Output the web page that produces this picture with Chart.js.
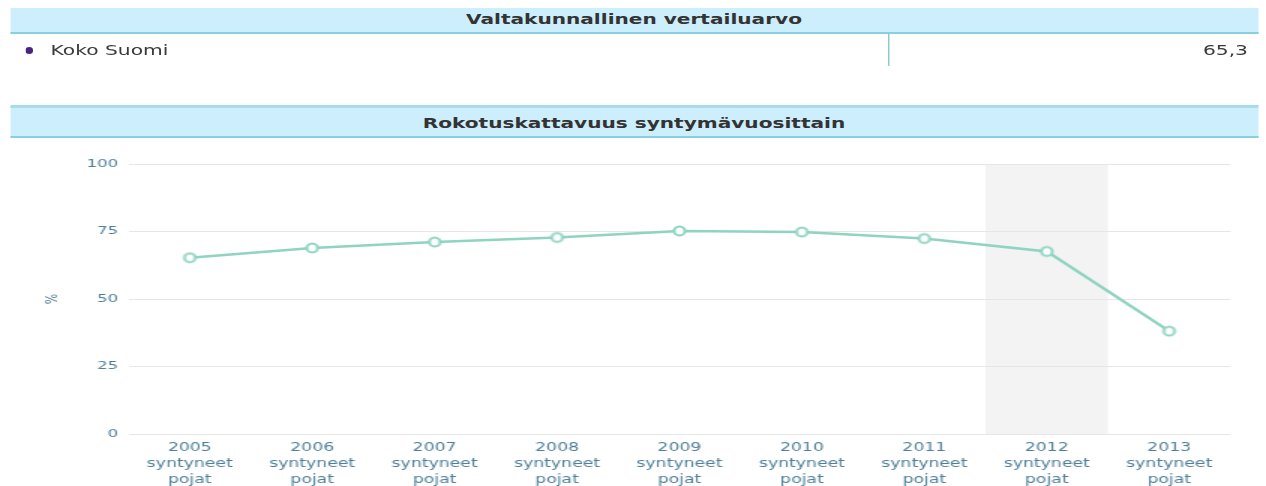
<!DOCTYPE html>
<html>
<head>
<meta charset="utf-8">
<script src="https://cdn.jsdelivr.net/npm/chart.js@4"></script>
<style>
  body { margin: 0; background: #fff; font-family: "DejaVu Sans", Verdana, sans-serif; color: #333; overflow: hidden; }
  /* the reference is a horizontally stretched screenshot, so the page is laid out narrow and stretched */
  #page { position: absolute; left: 0; top: 0; width: 844px; height: 486px; transform: scaleX(1.5); transform-origin: 0 0; }
  .hdr { position: absolute; left: 6.67px; width: 832px; background: #cdeefc; border-bottom: 2px solid #86d0df;
         text-align: center; font-weight: bold; font-size: 13.4px; color: #333; box-sizing: border-box; }
  #h1 { top: 8px; height: 26px; line-height: 24px; }
  #h2 { top: 105px; height: 33px; line-height: 31px; border-top: 3px solid #a9dceb; }
  #row { position: absolute; left: 6.67px; top: 34px; width: 832px; height: 32px; font-size: 13.5px; color: #3a3a3a; }
  #dot { position: absolute; left: 10px; top: 13px; width: 5.3px; height: 7px; border-radius: 50%; background: #4b2483; }
  #name { position: absolute; left: 27px; top: 8px; }
  #sep { position: absolute; left: 585px; top: 0; width: 1px; height: 32px; background: #8fc9d6; }
  #val { position: absolute; right: 6.67px; top: 8px; }
  #wrap { position: absolute; left: 6.67px; top: 140px; width: 832px; height: 346px; }
</style>
</head>
<body>
<div id="page">
<div class="hdr" id="h1">Valtakunnallinen vertailuarvo</div>
<div id="row"><div id="dot"></div><div id="name">Koko Suomi</div><div id="sep"></div><div id="val">65,3</div></div>
<div class="hdr" id="h2">Rokotuskattavuus syntymävuosittain</div>
<div id="wrap"><canvas id="myChart"></canvas></div>
</div>
<script>
var years = ["2005", "2006", "2007", "2008", "2009", "2010", "2011", "2012", "2013"];
var coverage = [65.3, 68.9, 71.1, 72.8, 75.2, 74.8, 72.4, 67.6, 38.1];
var yTicks = [0, 25, 50, 75, 100];
var shadedYear = "2012";

var labels = years.map(function (y) { return [y, "syntyneet", "pojat"]; });
var tickColor = "#4e7f99";
var lineColor = "#8fd4c1";

// point marker: narrower than tall so it ends up round-ish after the stretch
var marker = document.createElement("canvas");
marker.width = 12; marker.height = 14;
(function () {
  var m = marker.getContext("2d");
  m.beginPath();
  m.ellipse(6, 7, 3.6, 4.6, 0, 0, Math.PI * 2);
  m.fillStyle = "#fff";
  m.fill();
  m.lineWidth = 2;
  m.strokeStyle = lineColor;
  m.stroke();
})();

// grey band behind one category
var bandPlugin = {
  id: "band",
  beforeDraw: function (chart) {
    var x = chart.scales.x, area = chart.chartArea, c = chart.ctx;
    var i = years.indexOf(shadedYear);
    var half = (x.getPixelForValue(1) - x.getPixelForValue(0)) / 2;
    var cx = x.getPixelForValue(i);
    c.save();
    c.fillStyle = "#f3f3f3";
    c.fillRect(cx - half, area.top, half * 2, area.bottom - area.top);
    c.restore();
  }
};

var ctx = document.getElementById("myChart");
var myChart = new Chart(ctx, {
  type: 'line',
  data: {
    labels: labels,
    datasets: [
      {
        data: coverage,
        borderColor: lineColor,
        borderWidth: 2.5,
        pointStyle: marker,
        pointRadius: 5,
        tension: 0
      }
    ]
  },
  plugins: [bandPlugin],
  options: {
    responsive: true,
    maintainAspectRatio: false,
    animation: false,
    layout: { padding: { top: 24, right: 18.7, left: 18, bottom: 0 } },
    plugins: { legend: { display: false }, tooltip: { enabled: false } },
    scales: {
      x: {
        offset: true,
        grid: { display: false, drawTicks: false, tickLength: 0 },
        border: { display: false },
        ticks: { color: tickColor, font: { family: "DejaVu Sans", size: 11.5, lineHeight: 16 / 11.5 }, maxRotation: 0, autoSkip: false, padding: 6 },
        afterFit: function (s) { s.height = 52; }
      },
      y: {
        min: 0, max: 100,
        afterBuildTicks: function (s) { s.ticks = yTicks.map(function (v) { return { value: v }; }); },
        grid: { color: "#e6e6e6", drawTicks: false },
        border: { display: false },
        ticks: { color: tickColor, font: { family: "DejaVu Sans", size: 11 }, padding: 7 },
        title: { display: true, text: "%", color: tickColor, font: { family: "DejaVu Sans", size: 11 } },
        afterFit: function (s) { s.width = 60.7; }
      }
    }
  }
});
</script>
</body>
</html>
